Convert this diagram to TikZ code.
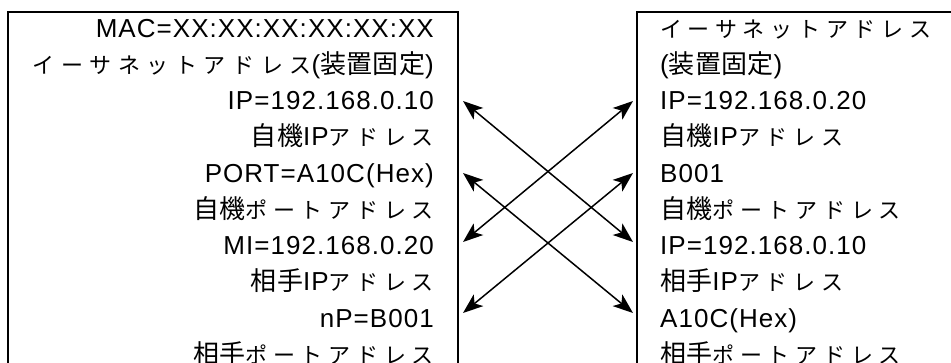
\documentclass[tikz,border=0pt]{standalone}
\usepackage{fontspec}
\setmainfont[LetterSpace=4]{Liberation Sans}
\newfontfamily\jpfont[LetterSpace=1]{Noto Sans CJK JP}
\newfontfamily\kanafont[LetterSpace=26]{Noto Sans CJK JP}
\newfontfamily\kanawide[LetterSpace=30]{Noto Sans CJK JP}
\newcommand\kj[1]{{\jpfont #1}}
\newcommand\kn[1]{{\kanafont\fontsize{22}{26}\selectfont #1}}
\newcommand\knw[1]{{\kanawide\fontsize{22}{26}\selectfont #1}}
\usetikzlibrary{arrows.meta}
\tikzset{
  boxline/.style={line width=1.5pt, black},
  ltext/.style={anchor=base east, inner sep=0pt, font=\fontsize{26}{36}\selectfont},
  rtext/.style={anchor=base west, inner sep=0pt, font=\fontsize{26}{36}\selectfont},
  link/.style={line width=1.5pt, arrows={Stealth[length=20pt,width=15pt,inset=5pt]-Stealth[length=20pt,width=15pt,inset=5pt]}}
}
\begin{document}
\begin{tikzpicture}[x=1pt,y=-1pt]
\useasboundingbox (0,0) rectangle (951,362);
\clip (0,0) rectangle (951,362);
% boxes
\draw[boxline] (8,380) -- (8,12) -- (458,12) -- (458,380);
\draw[boxline] (637,380) -- (637,12) -- (970,12);
% left texts
\node[ltext] (l1) at (434,37) {MAC=XX:XX:XX:XX:XX:XX};
\node[ltext] (l2) at (434,73.25) {\knw{イーサネットアドレス}(\kj{装置固定})};
\node[ltext] (l3) at (434,109.5) {IP=192.168.0.10};
\node[ltext] (l4) at (434,145.75) {\kj{自機}IP\kn{アドレス}};
\node[ltext] (l5) at (434,182) {PORT=A10C(Hex)};
\node[ltext] (l6) at (434,218.25) {\kj{自機}\kn{ポートアドレス}};
\node[ltext] (l7) at (434,254.5) {MI=192.168.0.20};
\node[ltext] (l8) at (434,290.75) {\kj{相手}IP\kn{アドレス}};
\node[ltext] (l9) at (434,327) {nP=B001};
\node[ltext] (l10) at (434,363.25) {\kj{相手}\kn{ポートアドレス}};
% right texts
\node[rtext] (r1) at (660,37) {\kn{イーサネットアドレス}};
\node[rtext] (r2) at (660,73.25) {(\kj{装置固定})};
\node[rtext] (r3) at (660,109.5) {IP=192.168.0.20};
\node[rtext] (r4) at (660,145.75) {\kj{自機}IP\kn{アドレス}};
\node[rtext] (r5) at (660,182) {B001};
\node[rtext] (r6) at (660,218.25) {\kj{自機}\kn{ポートアドレス}};
\node[rtext] (r7) at (660,254.5) {IP=192.168.0.10};
\node[rtext] (r8) at (660,290.75) {\kj{相手}IP\kn{アドレス}};
\node[rtext] (r9) at (660,327) {A10C(Hex)};
\node[rtext] (r10) at (660,363.25) {\kj{相手}\kn{ポートアドレス}};
% arrow ends
\coordinate (aL1) at (463,101);
\coordinate (aR1) at (633,101);
\coordinate (aL2) at (463,173);
\coordinate (aR2) at (633,173);
\coordinate (aL3) at (463,242);
\coordinate (aR3) at (633,242);
\coordinate (aL4) at (463,313);
\coordinate (aR4) at (633,313);
\draw[link] (aL1) -- (aR3);
\draw[link] (aR1) -- (aL3);
\draw[link] (aL2) -- (aR4);
\draw[link] (aR2) -- (aL4);
\end{tikzpicture}
\end{document}
